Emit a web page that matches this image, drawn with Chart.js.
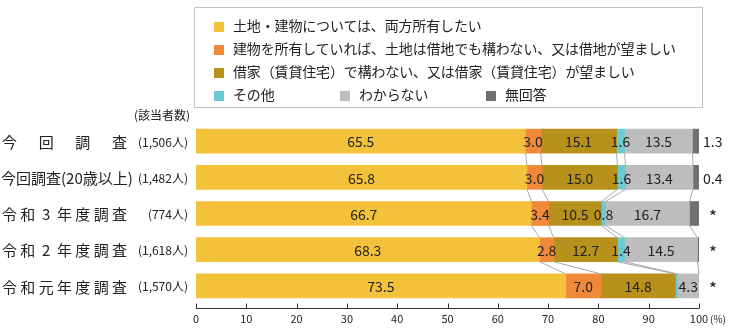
<!DOCTYPE html>
<html>
<head>
<meta charset="utf-8">
<script src="https://cdn.jsdelivr.net/npm/chart.js@4.4.1/dist/chart.umd.min.js"></script>
<style>
    body { margin: 0; background: #fff; }
    #wrap { position: relative; width: 730px; height: 332px; }
    #legend { position: absolute; left: 194px; top: 7px; width: 509px; height: 101px; border: 1px solid #c4c4c4; box-sizing: border-box;
              font-family: "Noto Sans CJK JP", sans-serif; font-size: 14px; color: #222; }
    .item { position: absolute; white-space: nowrap; line-height: 16px; letter-spacing: -0.15px; }
    .item span { display: inline-block; width: 10px; height: 10px; margin-right: 9px; vertical-align: -1px; }
</style>
</head>
<body>
<div id="wrap">
    <canvas id="barChart" width="730" height="332"></canvas>
    <div id="legend"></div>
</div>
<script>
// data
var categories = ['今回調査', '今回調査(20歳以上)', '令和3年度調査', '令和2年度調査', '令和元年度調査'];
var counts = ['(1,506人)', '(1,482人)', '(774人)', '(1,618人)', '(1,570人)'];
var seriesNames = [
    '土地・建物については、両方所有したい',
    '建物を所有していれば、土地は借地でも構わない、又は借地が望ましい',
    '借家（賃貸住宅）で構わない、又は借家（賃貸住宅）が望ましい',
    'その他',
    'わからない',
    '無回答'
];
var ownBoth = [65.5, 65.8, 66.7, 68.3, 73.5];
var landLease = [3.0, 3.0, 3.4, 2.8, 7.0];
var rentHouse = [15.1, 15.0, 10.5, 12.7, 14.8];
var other = [1.6, 1.6, 0.8, 1.4, 0.4];
var unknown = [13.5, 13.4, 16.7, 14.5, 4.3];
var noAnswer = [1.3, 1.2, 1.9, 0.3, 0];
var noAnswerLabels = ['1.3', '0.4', '*', '*', '*'];
var xTicks = [0, 10, 20, 30, 40, 50, 60, 70, 80, 90, 100];

var colors = ['#f3c13a', '#f08a3a', '#b8901c', '#6ccad3', '#bdbdbd', '#707070'];
var font = '"Noto Sans CJK JP", sans-serif';

function BuildLegend() {
    var box = document.getElementById('legend');
    var pos = [[19, 9], [19, 32], [19, 55], [19, 78], [145, 78], [291, 78]];
    var html = '';
    for (var i = 0; i < seriesNames.length; i++) {
        html += '<div class="item" style="left:' + pos[i][0] + 'px;top:' + pos[i][1] + 'px">' +
            '<span style="background:' + colors[i] + '"></span>' + seriesNames[i] + '</div>';
    }
    box.innerHTML = html;
}

var drawExtras = {
    id: 'drawExtras',
    afterDatasetsDraw: function (chart) {
        var ctx = chart.ctx;
        var area = chart.chartArea;
        var xs = chart.scales.x;
        var ys = chart.scales.y;
        var n = categories.length;
        ctx.save();

        // connector lines between bars
        ctx.strokeStyle = '#a8a8a8';
        ctx.lineWidth = 1;
        for (var d = 0; d < 5; d++) {
            var meta = chart.getDatasetMeta(d);
            for (var i = 0; i < n - 1; i++) {
                var a = meta.data[i], b = meta.data[i + 1];
                ctx.beginPath();
                ctx.moveTo(a.x, a.y + a.height / 2);
                ctx.lineTo(b.x, b.y - b.height / 2);
                ctx.stroke();
            }
        }

        // values inside the bars
        ctx.fillStyle = '#222';
        ctx.font = '14px ' + font;
        ctx.textAlign = 'center';
        ctx.textBaseline = 'middle';
        for (var d = 0; d < 5; d++) {
            var meta = chart.getDatasetMeta(d);
            var vals = chart.data.datasets[d].data;
            for (var i = 0; i < n; i++) {
                if (vals[i] < 0.5) continue;
                var el = meta.data[i];
                ctx.fillText(vals[i].toFixed(1), (el.x + el.base) / 2, el.y + 1);
            }
        }

        // no-answer labels on the right
        for (var i = 0; i < n; i++) {
            var y = ys.getPixelForValue(i);
            if (noAnswerLabels[i] === '*') {
                ctx.font = '17px ' + font;
                ctx.textAlign = 'center';
                ctx.fillText('*', xs.right + 14, y + 3);
            } else {
                ctx.font = '14px ' + font;
                ctx.textAlign = 'left';
                ctx.fillText(noAnswerLabels[i], xs.right + 4, y + 1);
            }
        }

        // category labels and counts on the left
        for (var i = 0; i < n; i++) {
            var y = ys.getPixelForValue(i);
            var label = categories[i];
            ctx.font = '15px ' + font;
            if (label.indexOf('(') < 0) {
                var chars = label.split('');
                var step = (127 - 2 - 15) / (chars.length - 1);
                ctx.textAlign = 'center';
                for (var c = 0; c < chars.length; c++) {
                    ctx.fillText(chars[c], 9.5 + c * step, y + 1);
                }
            } else {
                ctx.textAlign = 'left';
                ctx.fillText(label, 1, y + 1);
            }
            ctx.font = '12px ' + font;
            ctx.textAlign = 'right';
            ctx.fillText(counts[i], 188, y + 1);
        }
        ctx.font = '12px ' + font;
        ctx.textAlign = 'right';
        ctx.fillText('(該当者数)', 190, 115);

        // x axis line with upward ticks
        var axisY = area.bottom + 4.5;
        ctx.strokeStyle = '#333';
        ctx.beginPath();
        ctx.moveTo(xs.getPixelForValue(0), axisY);
        ctx.lineTo(xs.getPixelForValue(100), axisY);
        for (var t = 0; t < xTicks.length; t++) {
            var px = Math.round(xs.getPixelForValue(xTicks[t])) + 0.5;
            ctx.moveTo(px, axisY);
            ctx.lineTo(px, axisY - 5);
        }
        ctx.stroke();
        ctx.font = '10px ' + font;
        ctx.textAlign = 'left';
        ctx.fillText('(%)', xs.right + 11, area.bottom + 15);
        ctx.restore();
    }
};

function Charts() {
    var barCanvas = document.getElementById('barChart').getContext('2d');
    var seriesData = [ownBoth, landLease, rentHouse, other, unknown, noAnswer];
    var datasets = [];
    for (var d = 0; d < seriesData.length; d++) {
        datasets.push({
            label: seriesNames[d],
            data: seriesData[d],
            backgroundColor: colors[d],
            barThickness: 24,
            borderWidth: 0
        });
    }

    var barChart = new Chart(barCanvas, {
        type: 'bar',
        data: { labels: categories, datasets: datasets },
        options: {
            indexAxis: 'y',
            responsive: false,
            animation: false,
            layout: { padding: { left: 196, right: 31, top: 123, bottom: 0 } },
            plugins: { legend: { display: false }, tooltip: { enabled: false } },
            scales: {
                x: {
                    stacked: true,
                    min: 0,
                    max: 100,
                    afterFit: function (scale) { scale.height = 28; },
                    afterBuildTicks: function (scale) {
                        scale.ticks = xTicks.map(function (v) { return { value: v }; });
                    },
                    grid: { display: false, drawTicks: false },
                    border: { display: false },
                    ticks: {
                        padding: 8,
                        color: '#222',
                        font: { family: font, size: 11 },
                        maxRotation: 0
                    }
                },
                y: {
                    stacked: true,
                    display: false
                }
            }
        },
        plugins: [drawExtras]
    });
}

BuildLegend();
Charts();
</script>
</body>
</html>
